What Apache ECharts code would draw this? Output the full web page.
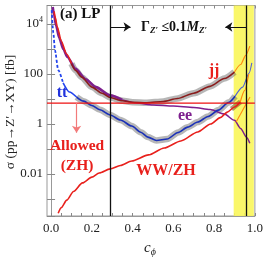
<!DOCTYPE html>
<html><head><meta charset="utf-8">
<script src="https://cdn.jsdelivr.net/npm/echarts@6/dist/echarts.min.js"></script>
<style>html,body{margin:0;padding:0;background:#fff}#c{width:266px;height:266px}</style>
</head><body><div id="c"></div>
<script>
// ---- data (c_phi, sigma [fb]) ----
const xTickLabels = [0, 0.2, 0.4, 0.6, 0.8, 1.0];
const xTickMarks = [0,0.05,0.1,0.15,0.2,0.25,0.3,0.35,0.4,0.45,0.5,0.55,0.6,0.65,0.7,0.75,0.8,0.85,0.9,0.95,1.0];
const yTickLabels = {'4':'10^4','2':'100','0':'1','-2':'0.01'};

const eeTop = [[0.008,4.8e4],[0.015,2.2e4],[0.025,8.5e3],[0.04,2.8e3],[0.06,1e3],[0.08,480],[0.12,160],[0.17,62],[0.22,30],[0.29,14],[0.35,9.2]];
const eeRest = [[0.35,9.2],[0.42,7],[0.5,5.8],[0.6,5.2],[0.7,4.6],[0.78,3.8],[0.85,2.5],[0.9,1.4],[0.93,0.66],[0.96,0.29],[0.975,0.17]];

const jjTop = [[0.015,3.2e4],[0.02,1.9e4],[0.03,8e3],[0.05,2.1e3],[0.075,650],[0.1,260]];
const jjBand = [[0.1,260],[0.12,140],[0.15,75],[0.2,30],[0.25,17],[0.29,11.5],[0.35,8.5],[0.4,7.4],[0.47,7.1],[0.55,8],[0.62,10.5],[0.7,17],[0.78,32],[0.85,66],[0.9,120]];
const jjEnd = [[0.9,120],[0.93,240],[0.955,560],[0.975,1300]];

const ttDash = [[0.003,3.6e4],[0.011,4.4e3],[0.019,900],[0.035,145],[0.059,44]];
const ttTop = [[0.059,44],[0.09,19],[0.125,12]];
const ttBand = [[0.125,12],[0.16,8.2],[0.2,5.5],[0.24,3.7],[0.29,2.3],[0.34,1.45],[0.396,0.83],[0.44,0.47],[0.475,0.3],[0.517,0.22],[0.57,0.25],[0.623,0.46],[0.67,0.75],[0.72,1.2],[0.77,2],[0.821,3.6],[0.87,7.2],[0.903,13]];
const ttEnd = [[0.903,13],[0.94,30],[0.972,110],[0.985,280]];

const wwMain = [[0.035,2.7e-4],[0.05,4.5e-4],[0.077,9e-4],[0.11,2e-3],[0.154,4.4e-3],[0.2,7.5e-3],[0.236,0.011],[0.29,0.016],[0.34,0.022],[0.396,0.033],[0.478,0.058],[0.555,0.11],[0.637,0.21],[0.72,0.48],[0.783,1],[0.83,1.8],[0.865,3],[0.9,4.8],[0.928,7.5]];
const wwBand = [[0.885,4],[0.93,7.7]];
const wwEnd = [[0.928,7.5],[0.95,22],[0.97,100]];
const zhEnd = [[0.908,1.2],[0.976,12]];

const limitLine = [[-0.02,6.9],[1.0,6.9]];
const allowedArrow = [6.9, 0.45];
const allowedC = 0.125;
const widthLineC = 0.29;
const bandC = [0.896, 0.995];
const rightLineC = 0.96;
const arrowSigma = 7.6e3;
const arrowRightEnd = 0.39;
const arrowLeftEnd = 0.855;

const SERIF = '"Liberation Serif","DejaVu Serif",serif';
const RED = '#e8201c', PURPLE = '#7e1f8e', BLUE = '#2244ee', DBLUE = '#1a30b8', DRED = '#8a1c1c', ORANGE = '#ff8a10', GRAYB = 'rgba(95,95,95,0.45)';

function line(data, color, width, extra) {
  return Object.assign({type:'line', data:data, symbol:'none', smooth:0.25, smoothMonotone:'x', silent:true,
    lineStyle:{color:color, width:width}, z:3}, extra||{});
}
function mline(pairs, color, width, z, arrow) {
  return {type:'line', data:[], silent:true, z:z||4,
    markLine:{silent:true, label:{show:false}, symbol: arrow ? ['none','arrow'] : 'none', symbolSize:7, animation:false,
      itemStyle:{color:color},
      lineStyle:{color:color, width:width, type:'solid'}, data:pairs}};
}

const series = [
  {type:'line', data:[], silent:true, z:1,
    markArea:{silent:true, itemStyle:{color:'#f9f65a', opacity:0.9},
      data:[[{xAxis:bandC[0]},{xAxis:bandC[1]}]]}},
  mline([{xAxis:widthLineC},{xAxis:rightLineC}], '#111', 1.3, 2, false),
  line(jjBand, GRAYB, 6.5, {z:2}),
  line(ttBand, GRAYB, 6.5, {z:2}),
  line(wwBand, 'rgba(110,100,40,0.6)', 5, {z:2}),
  line(eeTop, PURPLE, 2.6),
  line(eeRest, PURPLE, 1.5),
  line(jjTop, RED, 1.6),
  line(jjBand, DRED, 1.6),
  line(jjEnd, ORANGE, 1.2),
  line(ttDash, BLUE, 1.8, {lineStyle:{color:BLUE, width:1.8, type:[3,2]}}),
  line(ttTop, BLUE, 1.6),
  line(ttBand, DBLUE, 1.6),
  line(ttEnd, '#5060d8', 1.1),
  line(wwMain, RED, 1.6),
  line(wwEnd, ORANGE, 1.2),
  line(zhEnd, ORANGE, 1.1),
  line(limitLine, '#ee1111', 1.3, {smooth:false, z:4}),
  mline([[{coord:[allowedC, allowedArrow[0]]},{coord:[allowedC, allowedArrow[1]]}]], '#f27a7a', 1.2, 4, true),
  mline([[{coord:[widthLineC, arrowSigma]},{coord:[arrowRightEnd, arrowSigma]}],
         [{coord:[rightLineC, arrowSigma]},{coord:[arrowLeftEnd, arrowSigma]}]], '#111', 1, 4, true)
];

const option = {
  animation:false,
  grid:{left:47, top:5.5, right:8, bottom:50, show:true, borderColor:'#999', borderWidth:1},
  xAxis:[
    {type:'value', min:-0.02, max:1.0, splitLine:{show:false},
      axisLine:{show:true, lineStyle:{color:'#999'}},
      axisTick:{show:true, inside:true, length:3, customValues:xTickMarks, lineStyle:{color:'#888'}},
      axisLabel:{customValues:xTickLabels, formatter:v=>v.toFixed(1), fontFamily:SERIF, fontSize:13, color:'#222', margin:6}},
    {type:'value', min:-0.02, max:1.0, position:'top', splitLine:{show:false},
      axisLine:{show:true, lineStyle:{color:'#999'}},
      axisTick:{show:true, inside:true, length:3, customValues:xTickMarks, lineStyle:{color:'#888'}},
      axisLabel:{show:false}}
  ],
  yAxis:[
    {type:'log', logBase:10, min:2.09e-4, max:5.5e4, splitNumber:5, splitLine:{show:false},
      axisLine:{show:true, lineStyle:{color:'#999'}},
      axisTick:{show:true, inside:true, length:4, lineStyle:{color:'#888'}},
      axisLabel:{fontFamily:SERIF, fontSize:13, color:'#222', margin:4,
        formatter:function(v){
          const e = Math.log10(v), r = Math.round(e);
          if (Math.abs(e-r) > 1e-6) return '';
          const t = yTickLabels[String(r)];
          if (!t) return '';
          if (t === '10^4') return '{b|10}{s|4}';
          return t;
        },
        rich:{b:{fontFamily:SERIF, fontSize:13, color:'#222'}, s:{fontFamily:SERIF, fontSize:8, color:'#222', padding:[0,0,8,0]}}}},
    {type:'log', logBase:10, min:2.09e-4, max:5.5e4, splitNumber:5, position:'right', splitLine:{show:false},
      axisLine:{show:true, lineStyle:{color:'#999'}},
      axisTick:{show:true, inside:true, length:4, lineStyle:{color:'#888'}},
      axisLabel:{show:false}}
  ],
  series: series,
  graphic:[
    {type:'text', left:60, top:7, z:10, style:{text:'(a) LP', font:'bold 15px '+SERIF, fill:'#111'}},
    {type:'text', x:10, y:112, rotation:Math.PI/2, z:10,
      style:{text:'σ (pp→Z′→XY) [fb]', font:'13.5px '+SERIF, fill:'#222', align:'center', verticalAlign:'middle'}},
    {type:'text', x:150, y:248, z:10,
      style:{text:'{i|c}{s|ϕ}', align:'center', verticalAlign:'middle',
        rich:{i:{font:'italic 15px '+SERIF, fill:'#222'}, s:{font:'italic 10px '+SERIF, fill:'#222', padding:[8,0,0,0]}}}},
    {type:'text', x:141, y:27, z:10,
      style:{text:'{b|Γ}{sub|Z′}{b| ≤0.1}{bi|M}{sub|Z′}', verticalAlign:'middle',
        rich:{b:{font:'bold 14px '+SERIF, fill:'#111'}, bi:{font:'bold italic 14px '+SERIF, fill:'#111'},
              sub:{font:'bold italic 9px '+SERIF, fill:'#111', padding:[8,0,0,0]}}}},
    {type:'text', x:214, y:71, z:10, style:{text:'jj', font:'bold 16px '+SERIF, fill:RED, align:'center', verticalAlign:'middle'}},
    {type:'text', x:62, y:93, z:10, style:{text:'tt', font:'bold 16px '+SERIF, fill:'#2233dd', align:'center', verticalAlign:'middle'}},
    {type:'text', x:185, y:116, z:10, style:{text:'ee', font:'bold 16px '+SERIF, fill:PURPLE, align:'center', verticalAlign:'middle'}},
    {type:'text', x:166, y:171, z:10, style:{text:'WW/ZH', font:'bold 16px '+SERIF, fill:RED, align:'center', verticalAlign:'middle'}},
    {type:'text', x:77, y:146, z:10, style:{text:'Allowed', font:'bold 15.5px '+SERIF, fill:RED, align:'center', verticalAlign:'middle'}},
    {type:'text', x:77, y:166, z:10, style:{text:'(ZH)', font:'bold 15.5px '+SERIF, fill:RED, align:'center', verticalAlign:'middle'}}
  ]
};
const chart = echarts.init(document.getElementById('c'), null, {renderer:'canvas'});
chart.setOption(option);
</script></body></html>
